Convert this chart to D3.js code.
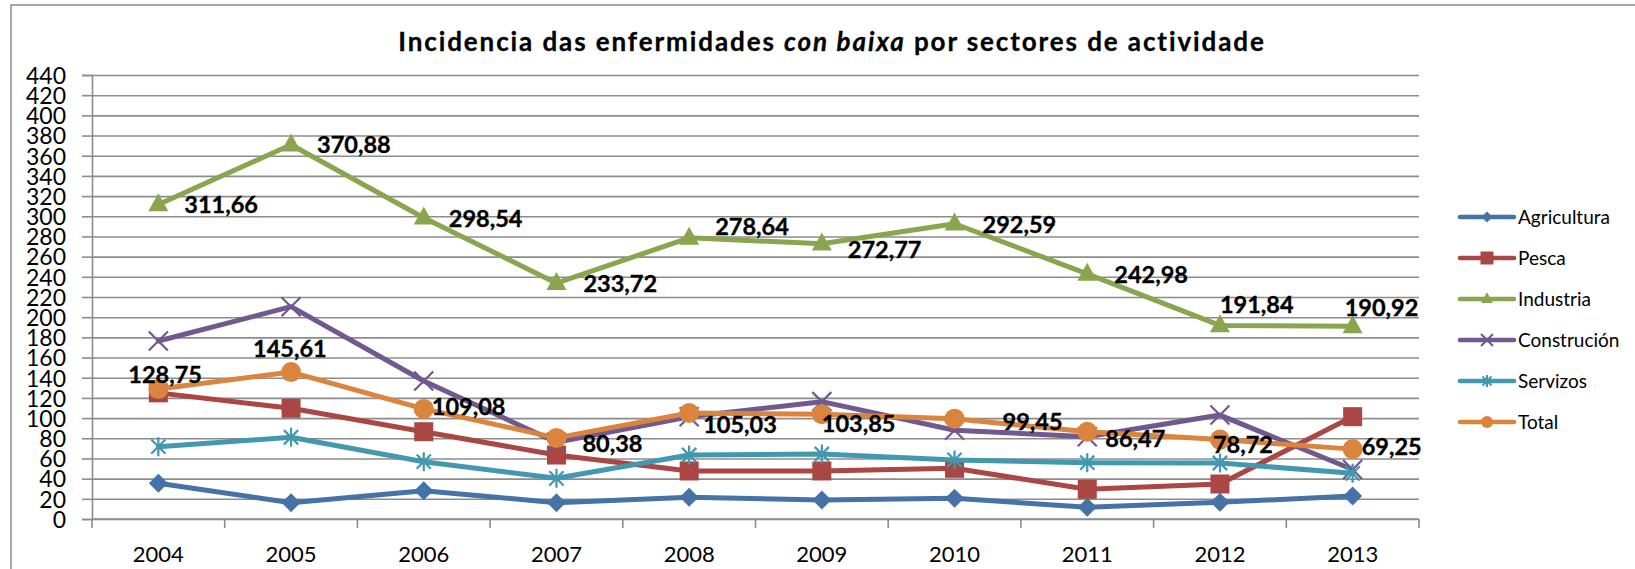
<!DOCTYPE html>
<html>
<head>
<meta charset="utf-8">
<script src="https://cdn.jsdelivr.net/npm/d3@7"></script>
<style>
  html, body { margin: 0; padding: 0; background: #fff; }
  svg { display: block; font-family: Lato, "Open Sans", "Liberation Sans", sans-serif; }
</style>
</head>
<body>
<svg id="chart" width="1635" height="569"></svg>
<script>
// ---- data ----
const years = ["2004", "2005", "2006", "2007", "2008", "2009", "2010", "2011", "2012", "2013"];
const seriesNames = ["Agricultura", "Pesca", "Industria", "Construción", "Servizos", "Total"];
const agricultura = [35.4, 16.2, 28.0, 16.2, 21.5, 18.8, 20.5, 11.6, 16.5, 22.8];
const pesca       = [125.0, 109.7, 86.5, 63.4, 47.6, 47.6, 50.2, 29.4, 34.7, 101.4];
const industria   = [311.66, 370.88, 298.54, 233.72, 278.64, 272.77, 292.59, 242.98, 191.84, 190.92];
const construcion = [176.4, 210.4, 136.8, 76.0, 101.4, 116.3, 88.0, 81.6, 103.0, 49.0];
const servizos    = [71.7, 81.0, 56.8, 40.3, 63.4, 64.4, 58.5, 55.8, 55.5, 45.3];
const total       = [128.75, 145.61, 109.08, 80.38, 105.03, 103.85, 99.45, 86.47, 78.72, 69.25];
const yTicks = d3.range(0, 441, 20);

// ---- look ----
const colors = ["#4572A7", "#AA4643", "#89A54E", "#71588F", "#4198AF", "#DB843D"];
const markers = ["diamond", "square", "triangle", "times", "star", "circle"];
const seriesValues = [agricultura, pesca, industria, construcion, servizos, total];

// label placement relative to the point: [dx to text start, dy to baseline]
const industriaLabelOffsets = [[26, 8], [26, 8], [25, 9], [27, 8.5], [26, -3], [26, 14], [28, 9.5], [27, 9], [0, -12], [-8, -10]];
const totalLabelOffsets = [[-30, -6], [-38, -15], [8, 6], [26, 14], [14, 20], [0, 17.5], [48, 11.5], [18, 15], [-7, 13], [9, 6]];

const svg = d3.select("#chart");
const W = 1635, H = 569;
const plot = { left: 92, right: 1419, top: 75, bottom: 519 };

svg.append("rect").attr("width", W).attr("height", H).attr("fill", "#fff");
// outer chart frame
svg.append("rect")
  .attr("x", 11).attr("y", 5).attr("width", 1700).attr("height", 700)
  .attr("fill", "none").attr("stroke", "#8a8a8a").attr("stroke-width", 1.5);

const x = d3.scaleBand().domain(years).range([plot.left, plot.right]).padding(0);
const cx = d => x(d) + x.bandwidth() / 2;
const y = d3.scaleLinear().domain([0, 440]).range([plot.bottom, plot.top]);

// horizontal gridlines
svg.append("g")
  .attr("transform", `translate(${plot.left},0)`)
  .call(d3.axisLeft(y).tickValues(yTicks).tickSize(-(plot.right - plot.left)).tickFormat(""))
  .call(g => g.select(".domain").remove())
  .call(g => g.selectAll("line").attr("stroke", "#8c8c8c").attr("stroke-width", 1.6));

// y axis
svg.append("g")
  .attr("transform", `translate(${plot.left},0)`)
  .call(d3.axisLeft(y).tickValues(yTicks).tickSize(10).tickPadding(16).tickFormat(d3.format("d")))
  .call(g => g.select(".domain").attr("stroke", "#8c8c8c").attr("stroke-width", 1.6))
  .call(g => g.selectAll("line").attr("stroke", "#8c8c8c").attr("stroke-width", 1.6))
  .call(g => g.selectAll("text").attr("font-family", "Lato").attr("font-size", 23).attr("fill", "#000").attr("dy", "0.36em"));

// x axis line + category boundary ticks
svg.append("line")
  .attr("x1", plot.left).attr("x2", plot.right).attr("y1", y(0)).attr("y2", y(0))
  .attr("stroke", "#8c8c8c").attr("stroke-width", 1.6);
const bounds = years.map(d => x(d)).concat([x.range()[1]]);
svg.append("g").selectAll("line").data(bounds).join("line")
  .attr("x1", d => d).attr("x2", d => d)
  .attr("y1", y(0)).attr("y2", y(0) + 9)
  .attr("stroke", "#8c8c8c").attr("stroke-width", 1.6);
svg.append("g").selectAll("text").data(years).join("text")
  .attr("x", d => cx(d)).attr("y", 562)
  .attr("text-anchor", "middle")
  .attr("font-size", 22).attr("fill", "#000")
  .text(d => d);

// marker shapes
function markerPath(type, s) {
  const r = s / 2;
  switch (type) {
    case "diamond": return `M0,${-r}L${r},0L0,${r}L${-r},0Z`;
    case "square": return `M${-r},${-r}H${r}V${r}H${-r}Z`;
    case "triangle": {
      const h = s * 0.9;
      return `M0,${-h * 0.62}L${r},${h * 0.38}L${-r},${h * 0.38}Z`;
    }
    case "circle": return d3.symbol(d3.symbolCircle, Math.PI * r * r)();
    case "times": return `M${-r},${-r}L${r},${r}M${-r},${r}L${r},${-r}`;
    case "star": {
      const k = r * 0.75;
      return `M0,${-r}V${r}M${-k},${-k}L${k},${k}M${-k},${k}L${k},${-k}`;
    }
  }
}
const strokeMarker = t => t === "times" || t === "star";
const markerSize = { diamond: 19, square: 19, triangle: 20, circle: 20, times: 19, star: 19 };
const legendMarkerSize = { diamond: 11, square: 13, triangle: 12, circle: 12, times: 12, star: 12 };

const line = d3.line().x(d => cx(d.year)).y(d => y(d.value));

seriesNames.forEach((name, i) => {
  const pts = years.map((yr, j) => ({ year: yr, value: seriesValues[i][j] }));
  const g = svg.append("g");
  g.append("path").datum(pts)
    .attr("d", line)
    .attr("fill", "none").attr("stroke", colors[i])
    .attr("stroke-width", 5).attr("stroke-linejoin", "round").attr("stroke-linecap", "round");
  const t = markers[i];
  g.selectAll("path.m").data(pts).join("path")
    .attr("class", "m")
    .attr("transform", d => `translate(${cx(d.year)},${y(d.value)})`)
    .attr("d", markerPath(t, markerSize[t]))
    .attr("fill", strokeMarker(t) ? "none" : colors[i])
    .attr("stroke", colors[i])
    .attr("stroke-width", strokeMarker(t) ? 2.2 : 0);
});

// data labels
function drawLabels(values, offsets) {
  svg.append("g").selectAll("text").data(years).join("text")
    .attr("x", (d, j) => cx(d) + offsets[j][0])
    .attr("y", (d, j) => y(values[j]) + offsets[j][1])
    .attr("font-size", 23.5).attr("font-weight", 700).attr("fill", "#000")
    .attr("stroke", "#000").attr("stroke-width", 0.35)
    .text((d, j) => d3.format(".2f")(values[j]).replace(".", ","));
}
drawLabels(industria, industriaLabelOffsets);
drawLabels(total, totalLabelOffsets);

// legend
const legendRows = [217, 258, 299, 340, 381, 422];
const lg = svg.append("g");
seriesNames.forEach((name, i) => {
  const ly = legendRows[i];
  lg.append("line").attr("x1", 1460).attr("x2", 1514).attr("y1", ly).attr("y2", ly)
    .attr("stroke", colors[i]).attr("stroke-width", 4.5).attr("stroke-linecap", "round");
  const t = markers[i];
  lg.append("path").attr("transform", `translate(1487,${ly})`)
    .attr("d", markerPath(t, legendMarkerSize[t]))
    .attr("fill", strokeMarker(t) ? "none" : colors[i])
    .attr("stroke", colors[i]).attr("stroke-width", strokeMarker(t) ? 2 : 0);
  lg.append("text").attr("x", 1518).attr("y", ly).attr("dy", "0.36em")
    .attr("font-size", 19).attr("fill", "#000").text(name);
});

// title, spread to its full width
const titleWidth = 868;
const title = svg.append("text")
  .attr("x", 832).attr("y", 51).attr("text-anchor", "middle")
  .attr("font-weight", 700).attr("font-size", 26).attr("fill", "#000")
  .attr("stroke", "#000").attr("stroke-width", 0.3);
title.append("tspan").text("Incidencia das enfermidades ");
title.append("tspan").attr("font-style", "italic").text("con baixa");
title.append("tspan").text(" por sectores de actividade");
const tw = title.node().getComputedTextLength();
const nChars = title.text().length;
const spacing = Math.max(-1, Math.min(2, (titleWidth - tw) / nChars));
title.attr("letter-spacing", spacing);
</script>
</body>
</html>
